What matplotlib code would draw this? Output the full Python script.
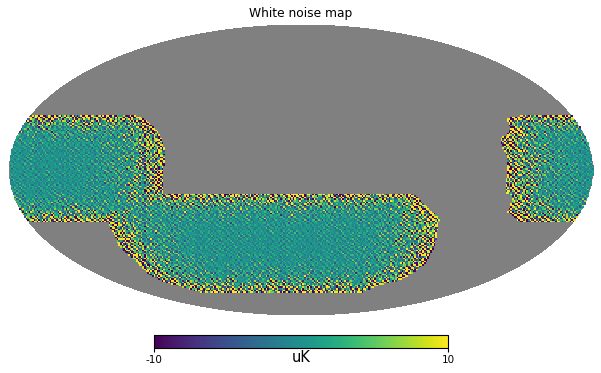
import numpy as np
import matplotlib
matplotlib.use("Agg")
import matplotlib.pyplot as plt
from matplotlib.path import Path
from matplotlib.colors import ListedColormap

title = "White noise map"
unit = "uK"
vmin = -10
vmax = 10
tick_labels = ["-10", "10"]

# survey footprint outlines (pixels)
left_patch = [(-20, 115), (133, 115), (147, 120), (157, 130), (163, 143), (165, 150),
              (163, 183), (162, 222), (-20, 222)]
centre_patch = [(105, 194), (412, 194), (417, 197), (428, 208), (440, 218), (435, 245),
                (427, 262), (413, 273), (400, 280), (380, 285), (363, 292), (200, 292),
                (167, 283), (150, 275), (137, 263), (120, 248), (113, 232), (108, 222)]
right_patch = [(507, 118), (527, 115), (620, 115), (620, 223), (520, 222), (508, 212),
               (513, 198), (505, 192), (507, 172), (508, 158), (503, 148), (500, 138),
               (507, 135), (510, 128)]

# how far the noise level falls going in from an edge
depth_score = [0.0, 0.3, 0.6, 1.0, 2.0, 4.0, 8.0]
noise_level = [30.0, 18.0, 12.0, 7.5, 4.0, 1.9, 1.4]

# hand typed speckle, in units of the local noise level
speckle_a = [
    [ 0.4, -1.2,  0.9,  1.7, -0.3, -0.8,  0.2,  1.1, -1.6,  0.6, -0.1],
    [-0.9,  0.3, -1.8,  0.5,  1.3, -0.2,  0.7, -1.0,  0.1,  1.9, -0.6],
    [ 1.5, -0.4,  0.1, -1.1,  0.8,  2.1, -1.4,  0.3,  0.9, -0.7,  0.2],
    [-0.2,  1.0, -0.7,  0.4, -1.9,  0.6,  0.1, -0.5,  1.4, -1.3,  0.8],
    [ 0.7, -1.5,  1.2, -0.1,  0.3, -0.9,  1.8, -0.2, -0.6,  0.5, -2.0],
    [-1.1,  0.2,  0.6, -1.7,  1.0,  0.4, -0.3,  1.6, -0.8,  0.0,  1.2],
    [ 2.0, -0.6, -0.2,  0.9, -1.2,  0.1,  1.1, -1.5,  0.5, -0.4,  0.3],
    [-0.5,  1.4, -1.0,  0.2,  0.6, -2.2,  0.4,  0.8, -0.1,  1.3, -0.9],
    [ 0.1, -0.3,  1.6, -0.8, -0.4,  1.2, -0.9,  0.0,  1.9, -1.1,  0.6],
    [ 1.1, -1.8,  0.3,  0.7, -1.4,  0.5,  0.2, -0.7,  0.4, -0.2,  1.5],
    [-0.7,  0.5, -0.5,  1.3,  0.2, -1.0,  1.7, -1.2, -0.3,  0.9, -1.6],
    [ 0.3,  0.8, -2.1, -0.2,  1.5, -0.1, -0.6,  0.6,  1.0, -1.4,  0.1],
    [-1.3,  1.8,  0.0, -0.9,  0.4,  0.9, -1.1,  1.4, -0.4,  0.2,  0.7],
]
speckle_b = [
    [ 0.6, -1.3,  0.2,  1.4, -0.7,  0.9, -0.1, -1.6,  1.1],
    [-1.0,  0.8,  1.7, -0.4,  0.1, -1.2,  0.5,  0.3, -0.6],
    [ 0.2, -0.5, -0.9,  1.0,  1.5, -0.3, -1.8,  0.7,  0.4],
    [ 1.3,  0.1, -1.5,  0.6, -0.8,  0.3,  1.2, -0.2, -1.1],
    [-0.4,  1.6,  0.5, -1.4,  0.0, -0.6,  0.9,  1.0, -0.9],
    [ 0.8, -0.7,  0.3,  0.1,  1.8, -1.7, -0.2, -0.5,  0.6],
    [-1.9,  0.4,  1.1, -0.1, -0.5,  0.7, -1.0,  1.5,  0.2],
]
speckle_c = [
    [ 1.2, -0.2, -1.5,  0.7,  0.3, -0.9,  1.6, -0.4,  0.1, -1.1,  0.8,  0.5, -1.7,  0.2,  1.0, -0.6, -0.3],
    [-0.8,  1.5,  0.4, -0.1, -1.3,  0.6, -0.5,  1.1, -1.9,  0.9,  0.0, -0.7,  1.3, -0.2,  0.3,  1.7, -1.0],
    [ 0.2, -1.1,  0.9,  1.8, -0.6, -0.3,  0.7, -1.4,  0.5,  1.2, -0.8,  0.1, -0.4,  1.6, -1.5,  0.4,  0.6],
    [ 1.4,  0.3, -0.7, -1.6,  1.0,  0.2, -1.2,  0.8,  0.6, -0.5,  1.9, -1.3,  0.0, -0.9,  0.7, -0.1, -1.8],
    [-0.3,  0.9,  1.3, -0.5,  0.1, -2.0,  0.4,  0.2, -1.0,  1.5, -0.6,  0.8,  1.1, -1.2, -0.4,  0.5,  1.0],
]
speckle_d = [
    [ 0.9, -1.4,  0.3, -0.2],
    [-0.6,  0.5,  1.6, -1.1],
    [ 1.7, -0.1, -0.9,  0.4],
    [-1.2,  1.1,  0.2, -0.7],
    [ 0.0, -1.8,  0.8,  1.3],
    [ 0.6,  0.7, -1.3, -0.4],
    [-1.5,  0.2,  1.2,  0.1],
    [ 1.0, -0.8, -0.3,  1.9],
    [-0.2,  1.4, -1.6,  0.5],
    [ 0.4, -0.5,  0.9, -1.0],
    [ 1.5,  0.1, -0.6, -1.7],
    [-0.9,  1.8,  0.0,  0.3],
    [ 0.7, -1.2,  1.1, -0.3],
    [-0.4, -0.7,  0.6,  1.4],
    [ 1.3,  0.9, -1.9,  0.2],
    [-1.0,  0.3,  0.5, -0.8],
    [ 0.2, -1.6,  1.7,  0.6],
    [ 1.1,  0.4, -0.2, -1.3],
    [-0.7,  1.0, -1.1,  0.8],
]

cell = 1.6
centre_x, centre_y = 301, 170
semi_x, semi_y = 292, 145.5


def inside(outline, px, py):
    pts = np.column_stack([px.ravel(), py.ravel()])
    return Path(outline).contains_points(pts).reshape(px.shape)


def edge_dist(mask, axis):
    # cells to the nearest edge of the mask along one axis, the map border does not count
    m = mask if axis == 1 else mask.T
    fwd = np.zeros(m.shape)
    back = np.zeros(m.shape)
    fwd[:, 0] = 1000.0 * m[:, 0]
    back[:, -1] = 1000.0 * m[:, -1]
    for j in range(1, m.shape[1]):
        fwd[:, j] = (fwd[:, j - 1] + 1) * m[:, j]
    for j in range(m.shape[1] - 2, -1, -1):
        back[:, j] = (back[:, j + 1] + 1) * m[:, j]
    d = np.minimum(fwd, back)
    return d if axis == 1 else d.T


def patch_noise(outline, px, py):
    mask = inside(outline, px, py)
    across = edge_dist(mask, 1) * cell / 20.0
    along = edge_dist(mask, 0) * cell / 8.0
    rms = np.interp(np.minimum(across, along), depth_score, noise_level)
    return mask, rms


nx, ny = 376, 234
xs = (np.arange(nx) + 0.5) * cell
ys = (np.arange(ny) + 0.5) * cell
px, py = np.meshgrid(xs, ys)

# patches that overlap add up their coverage
weight = np.zeros(px.shape)
seen = np.zeros(px.shape, dtype=bool)
for outline in [left_patch, centre_patch, right_patch]:
    mask, rms = patch_noise(outline, px, py)
    seen |= mask
    weight[mask] += 1.0 / rms[mask] ** 2
level = np.full(px.shape, np.nan)
level[seen] = 1.0 / np.sqrt(weight[seen])

jj, ii = np.indices(px.shape)
speckle = np.zeros(px.shape)
for tile in [speckle_a, speckle_b, speckle_c, speckle_d]:
    t = np.array(tile)
    speckle += t[jj % t.shape[0], ii % t.shape[1]]
values = level * speckle * 0.5

# the grey sky is drawn on a one pixel grid, the noise cells on top of it
gx, gy = np.meshgrid(np.arange(601) + 0.5, np.arange(373) + 0.5)
sky_fine = ((gx - centre_x) / semi_x) ** 2 + ((gy - centre_y) / semi_y) ** 2 <= 1
sky = ((px - centre_x) / semi_x) ** 2 + ((py - centre_y) / semi_y) ** 2 <= 1

fig = plt.figure(figsize=(6.01, 3.73), dpi=100)
ax = fig.add_axes([0, 0, 1, 1])
ax.axis("off")

ax.imshow(np.ma.masked_where(~sky_fine, np.ones(gx.shape)), cmap=ListedColormap(["#808080"]),
          extent=(0, 601, 373, 0), interpolation="nearest", aspect="auto")
ax.imshow(np.ma.masked_where(~(sky & seen), values), cmap="viridis", vmin=vmin, vmax=vmax,
          extent=(0, nx * cell, ny * cell, 0), interpolation="nearest", aspect="auto")
ax.set_xlim(0, 601)
ax.set_ylim(373, 0)
ax.text(301, 13, title, ha="center", va="center", fontsize=8.8)

cax = fig.add_axes([154 / 601, 1 - 348 / 373, 294 / 601, 13 / 373])
sm = plt.cm.ScalarMappable(norm=plt.Normalize(vmin, vmax), cmap="viridis")
cb = fig.colorbar(sm, cax=cax, orientation="horizontal")
cb.set_ticks([vmin, vmax])
cb.set_ticklabels(tick_labels)
cb.ax.tick_params(labelsize=7.5, length=3, width=0.8, pad=2)
cb.outline.set_linewidth(0.8)
ax.text(301, 358, unit, ha="center", va="center", fontsize=10.5)

fig.savefig("out.png", dpi=100)
